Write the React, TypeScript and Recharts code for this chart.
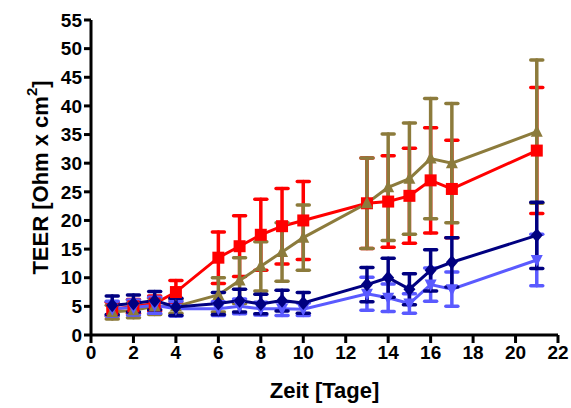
import React from 'react';
import { LineChart, Line, XAxis, YAxis, ErrorBar, Label } from 'recharts';

// Tage der Messungen
const days = [1, 2, 3, 4, 6, 7, 8, 9, 10, 13, 14, 15, 16, 17, 21];

// Mittelwerte und Fehler je Gruppe
const redMean = [4.5, 5, 5.5, 7.5, 13.5, 15.5, 17.5, 19, 20, 23, 23.3, 24.3, 27, 25.5, 32.2];
const redErr = [1.2, 1.2, 1.3, 2, 4.5, 5.3, 6.2, 6.6, 6.8, 7.9, 8, 8.3, 9.2, 8.5, 11];
const brownMean = [4, 4.3, 5, 5, 7, 9.5, 12, 14.5, 17, 23, 25.8, 27.3, 30.8, 30, 35.5];
const brownErr = [1.2, 1.3, 1.4, 1.2, 3, 4, 4.3, 5.1, 5.7, 7.9, 9.3, 9.7, 10.5, 10.4, 12.5];
const navyMean = [5.2, 5.5, 6, 4.9, 5.5, 6, 5.4, 6, 5.6, 8.8, 10, 8, 11.3, 12.7, 17.4];
const navyErr = [1.6, 1.5, 1.6, 1.5, 1.9, 2, 1.7, 1.8, 1.8, 3, 3.4, 2.7, 3.6, 4.3, 5.8];
const lightMean = [4.6, 4.8, 5.2, 4.6, 4.6, 5, 4.6, 4.6, 4.5, 7.2, 6.5, 5.5, 8.8, 8, 13.1];
const lightErr = [1.3, 1.3, 1.4, 1.3, 1.2, 1.3, 1.1, 1.2, 1.1, 2.9, 2.4, 1.7, 2.9, 3, 4.5];

const xTicks = [0, 2, 4, 6, 8, 10, 12, 14, 16, 18, 20, 22];
const yTicks = [0, 5, 10, 15, 20, 25, 30, 35, 40, 45, 50, 55];

const RED = '#ff0000';
const BROWN = '#8c7b3c';
const NAVY = '#000080';
const LIGHT = '#5a5aff';
const FONT = '"Liberation Sans", Arial, sans-serif';

const data = days.map((d, i) => ({
  day: d,
  red: redMean[i],
  redErr: redErr[i],
  brown: brownMean[i],
  brownErr: brownErr[i],
  navy: navyMean[i],
  navyErr: navyErr[i],
  light: lightMean[i],
  lightErr: lightErr[i],
}));

const makeDot = (shape: string, color: string) => (props: any) => {
  const { cx, cy, index } = props;
  const s = 6;
  const key = `${shape}-${index}`;
  if (cx == null || cy == null) return <g key={key} />;
  if (shape === 'square') {
    return <rect key={key} x={cx - s} y={cy - s} width={2 * s} height={2 * s} fill={color} />;
  }
  if (shape === 'up') {
    return <polygon key={key} points={`${cx},${cy - s - 1} ${cx + s},${cy + s - 1} ${cx - s},${cy + s - 1}`} fill={color} />;
  }
  if (shape === 'down') {
    return <polygon key={key} points={`${cx},${cy + s + 1} ${cx + s},${cy - s + 1} ${cx - s},${cy - s + 1}`} fill={color} />;
  }
  return <polygon key={key} points={`${cx},${cy - s - 1} ${cx + s},${cy} ${cx},${cy + s + 1} ${cx - s},${cy}`} fill={color} />;
};

const YLabel = (props: any) => {
  const vb = props.viewBox || {};
  const cx = vb.x + 40;
  const cy = vb.y + vb.height / 2;
  return (
    <text
      x={cx}
      y={cy}
      transform={`rotate(-90, ${cx}, ${cy})`}
      textAnchor="middle"
      dominantBaseline="central"
      fontFamily={FONT}
      fontWeight="bold"
      fontSize={22}
      fill="#000"
    >
      TEER [Ohm x cm<tspan fontSize={15} dy={-9}>2</tspan><tspan dy={9}>]</tspan>
    </text>
  );
};

const series = [
  { key: 'red', err: 'redErr', color: RED, shape: 'square' },
  { key: 'brown', err: 'brownErr', color: BROWN, shape: 'up' },
  { key: 'light', err: 'lightErr', color: LIGHT, shape: 'down' },
  { key: 'navy', err: 'navyErr', color: NAVY, shape: 'diamond' },
];

export default function App() {
  const tickStyle = { fill: '#000', fontSize: 19, fontWeight: 'bold', fontFamily: FONT };
  return (
    <div style={{ position: 'absolute', left: 0, top: 0, background: '#fff' }}>
      <LineChart width={571} height={408} data={data} margin={{ top: 20, right: 13, bottom: 0, left: 0 }}>
        <XAxis
          dataKey="day"
          type="number"
          domain={[0, 22]}
          ticks={xTicks}
          interval={0}
          height={73}
          axisLine={{ stroke: '#000', strokeWidth: 3 }}
          tickLine={{ stroke: '#000', strokeWidth: 3 }}
          tickSize={8}
          tickMargin={3}
          tick={tickStyle}
        >
          <Label
            value="Zeit [Tage]"
            position="insideBottom"
            offset={10}
            style={{ fill: '#000', fontSize: 22, fontWeight: 'bold', fontFamily: FONT }}
          />
        </XAxis>
        <YAxis
          type="number"
          domain={[0, 55]}
          ticks={yTicks}
          interval={0}
          width={91}
          axisLine={{ stroke: '#000', strokeWidth: 3 }}
          tickLine={{ stroke: '#000', strokeWidth: 3 }}
          tickSize={7}
          tickMargin={2}
          tick={tickStyle}
        >
          <Label content={YLabel} />
        </YAxis>
        {series.map((s) => (
          <Line
            key={s.key}
            dataKey={s.key}
            stroke={s.color}
            strokeWidth={3}
            dot={makeDot(s.shape, s.color)}
            activeDot={false}
            isAnimationActive={false}
          >
            <ErrorBar
              dataKey={s.err}
              direction="y"
              width={6}
              stroke={s.color}
              strokeWidth={3.5}
              strokeLinecap="round"
            />
          </Line>
        ))}
      </LineChart>
    </div>
  );
}
